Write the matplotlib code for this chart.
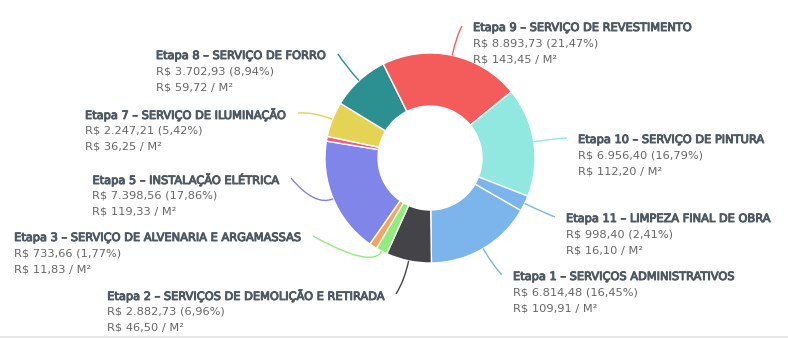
import matplotlib
matplotlib.use('Agg')
import matplotlib.pyplot as plt
import matplotlib.patheffects as pe
from matplotlib.path import Path
from matplotlib.patches import PathPatch
import numpy as np

plt.rcParams['font.family'] = ['DejaVu Sans']

# custo por etapa da obra (R$)
etapas = ['Etapa 1 \u2013 SERVIÇOS ADMINISTRATIVOS',
          'Etapa 2 \u2013 SERVIÇOS DE DEMOLIÇÃO E RETIRADA',
          'Etapa 3 \u2013 SERVIÇO DE ALVENARIA E ARGAMASSAS',
          'Etapa 4',
          'Etapa 5 \u2013 INSTALAÇÃO ELÉTRICA',
          'Etapa 6',
          'Etapa 7 \u2013 SERVIÇO DE ILUMINAÇÃO',
          'Etapa 8 \u2013 SERVIÇO DE FORRO',
          'Etapa 9 \u2013 SERVIÇO DE REVESTIMENTO',
          'Etapa 10 \u2013 SERVIÇO DE PINTURA',
          'Etapa 11 \u2013 LIMPEZA FINAL DE OBRA']
valores = [6814.48, 2882.73, 733.66, 497.00, 7398.56, 300.00,
           2247.21, 3702.93, 8893.73, 6956.40, 998.40]
area_m2 = 62.0

cores = ['#7cb5ec', '#434348', '#90ed7d', '#f7a35c', '#8085e9', '#f15c80',
         '#e4d354', '#2b908f', '#f45b5b', '#91e8e1', '#7cb5ec']

# posicao dos rotulos: lado, borda do texto (x), centro do titulo (y) em px
rotulos = {
    0: ('d', 513, 277),
    1: ('e', 383, 296),
    2: ('e', 300, 238),
    4: ('e', 278, 180),
    6: ('e', 285, 115),
    7: ('e', 325, 56),
    8: ('d', 473, 28),
    9: ('d', 578, 140),
    10: ('d', 566, 219),
}

W, H = 788, 338
cx, cy, R = 430, H - 158, 105


def brl(v):
    s = f'{v:,.2f}'
    return s.replace(',', '#').replace('.', ',').replace('#', '.')


fig = plt.figure(figsize=(W / 100, H / 100), dpi=100)
ax = fig.add_axes([0, 0, 1, 1])
wedges, _ = ax.pie(valores, colors=cores, startangle=-30, counterclock=False,
                   radius=R, center=(cx, cy),
                   wedgeprops=dict(width=53, edgecolor='white', linewidth=1))
ax.set_xlim(0, W)
ax.set_ylim(0, H)
ax.axis('off')

total = sum(valores)
renderer = fig.canvas.get_renderer()
cor_titulo = '#4f5964'
cor_valor = '#666666'
negrito = [pe.withStroke(linewidth=0.7, foreground=cor_titulo)]
fs = 8.2

for i, (lado, xb, yt) in rotulos.items():
    w = wedges[i]
    ang = np.deg2rad((w.theta1 + w.theta2) / 2)
    p0 = (cx + R * np.cos(ang), cy + R * np.sin(ang))
    p1 = (cx + (R + 20) * np.cos(ang), cy + (R + 20) * np.sin(ang))
    y = H - yt
    xa = xb - 11 if lado == 'd' else xb + 13
    caminho = Path([p0, p1, (xa, y + 2)], [Path.MOVETO, Path.CURVE3, Path.CURVE3])
    ax.add_patch(PathPatch(caminho, fill=False, edgecolor=cores[i], lw=1))

    t = ax.text(xb, y, etapas[i], ha='left' if lado == 'd' else 'right',
                va='center', fontsize=fs, color=cor_titulo, path_effects=negrito)
    x0 = xb
    if lado == 'e':
        x0 = t.get_window_extent(renderer).x0
    pct = brl(valores[i] / total * 100)
    ax.text(x0, y - 15.7, f'R$ {brl(valores[i])} ({pct}%)', ha='left',
            va='center', fontsize=fs, color=cor_valor)
    ax.text(x0, y - 31.4, f'R$ {brl(valores[i] / area_m2)} / M²', ha='left',
            va='center', fontsize=fs, color=cor_valor)

ax.axhline(0.8, color='#e6e6e6', lw=2)

plt.savefig('out.png', dpi=100)
